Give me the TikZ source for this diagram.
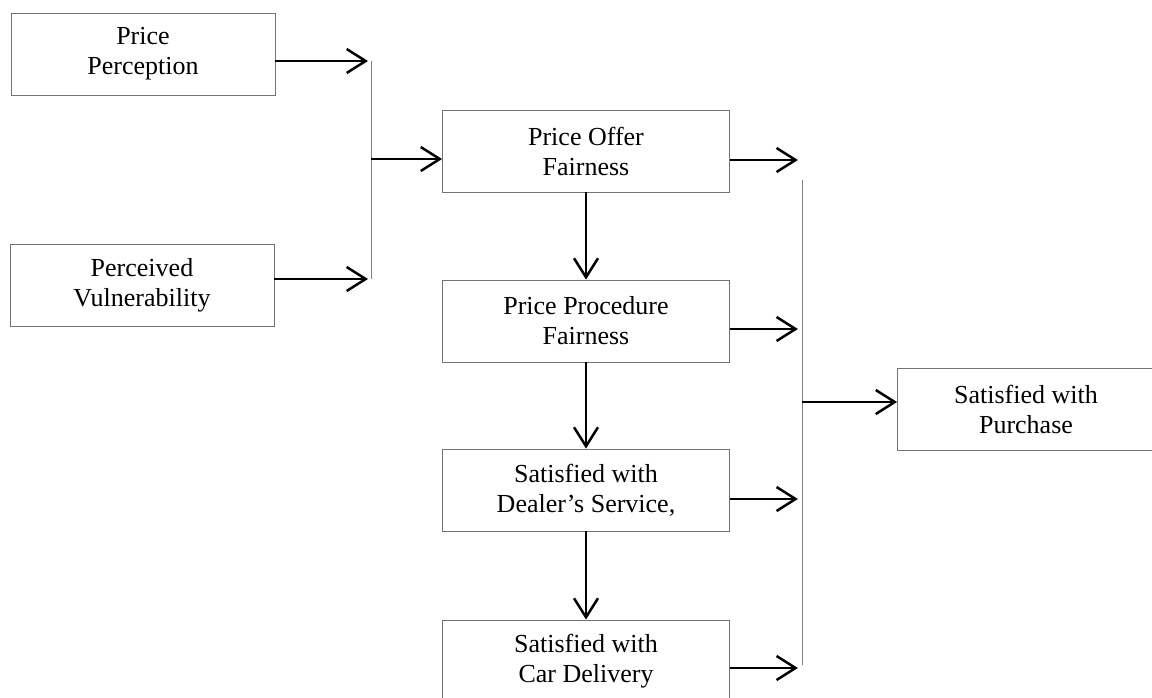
\documentclass[tikz,border=0pt]{standalone}
\usepackage{fontspec}
\setmainfont{Liberation Serif}
\usetikzlibrary{arrows.meta}
\begin{document}
\begin{tikzpicture}[x=1pt,y=-1pt,
  box/.style={draw=black!55,line width=0.8pt,minimum height=82pt,inner sep=0pt,
    align=center,font=\fontsize{26}{30}\selectfont},
  flow/.style={line width=2.7pt,-{Straight Barb[length=19pt,width=24pt,line width=2.5pt]}},
  joiner/.style={draw=black!50,line width=0.8pt}]
\useasboundingbox (0,0) rectangle (1152,698);
% input boxes
\node (pp) [box,minimum width=264pt] at (143,54) {Price\\Perception};
\node (pv) [box,minimum width=264pt] at (142,285) {Perceived\\Vulnerability};
% middle column
\node (pof) [box,minimum width=287pt] at (586,151) {Price Offer\\Fairness};
\node (ppf) [box,minimum width=287pt] at (586,321) {Price Procedure\\Fairness};
\node (sds) [box,minimum width=287pt] at (586,490) {Satisfied with\\Dealer's Service,};
\node (scd) [box,minimum width=287pt] at (586,661) {Satisfied with\\Car Delivery};
% outcome
\node (sp) [box,minimum width=257pt] at (1026,409) {Satisfied with\\Purchase};
% left joiner
\coordinate (jlt) at (371,61);
\coordinate (jlb) at (371,279);
\coordinate (jlm) at (371,159);
\draw [joiner] (jlt) -- (jlb);
\draw [flow] ([yshift=-7pt]pp.east) -- ([xshift=-3pt]jlt);
\draw [flow] ([yshift=6pt]pv.east) -- ([xshift=-3pt]jlb);
\draw [flow] (jlm) -- ([yshift=-8pt]pof.west);
% downward chain
\draw [flow] (pof) -- (ppf);
\draw [flow] (ppf) -- (sds);
\draw [flow] (sds) -- (scd);
% right joiner
\coordinate (jrt) at (802,180);
\coordinate (jrb) at (802,665);
\coordinate (jrm) at (802,402);
\draw [joiner] (jrt) -- (jrb);
\draw [flow] ([yshift=-9pt]pof.east) -- ++(68,0);
\draw [flow] ([yshift=-8pt]ppf.east) -- ++(68,0);
\draw [flow] ([yshift=-9pt]sds.east) -- ++(68,0);
\draw [flow] ([yshift=-7pt]scd.east) -- ++(68,0);
\draw [flow] (jrm) -- ([yshift=7pt]sp.west);
\end{tikzpicture}
\end{document}
